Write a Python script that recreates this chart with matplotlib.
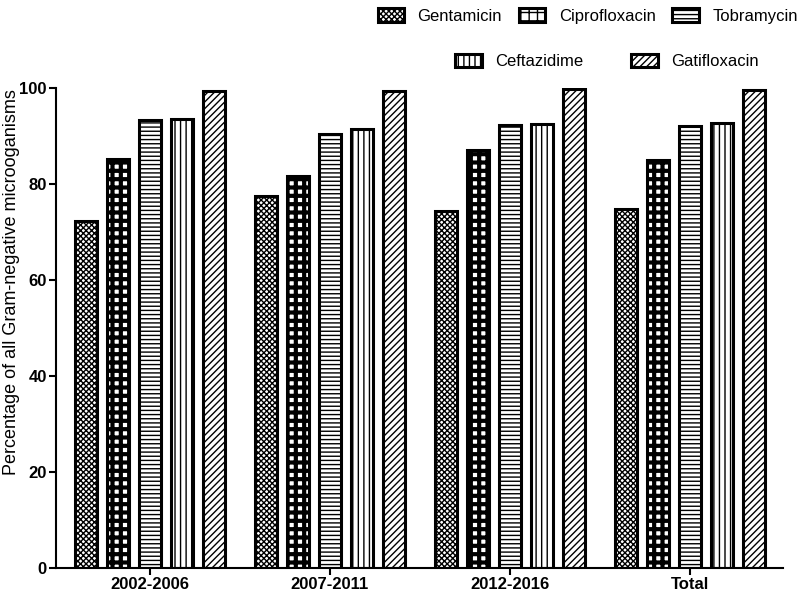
import numpy as np
import matplotlib as mpl
mpl.use('Agg')
import matplotlib.pyplot as plt
from matplotlib.patches import Patch

plt.rcParams['font.family'] = ['Liberation Sans', 'DejaVu Sans']

groups = ['2002-2006', '2007-2011', '2012-2016', 'Total']
drugs = ['Gentamicin', 'Ciprofloxacin', 'Tobramycin', 'Ceftazidime', 'Gatifloxacin']
gentamicin = [72.3, 77.5, 74.4, 74.7]
ciprofloxacin = [85.2, 81.7, 87.0, 85.0]
tobramycin = [93.3, 90.3, 92.3, 92.1]
ceftazidime = [93.5, 91.5, 92.5, 92.6]
gatifloxacin = [99.4, 99.4, 99.8, 99.6]
values = [gentamicin, ciprofloxacin, tobramycin, ceftazidime, gatifloxacin]

hatches = ['xxxxxx', '++', '----', '|||', '/////']
hatch_lw = [1.0, 3.0, 1.0, 1.0, 1.0]
hatch_col = ['#222222', 'black', '#444444', '#444444', '#444444']

fig = plt.figure(figsize=(8, 5.93), dpi=100)
ax = fig.add_axes([0.07, 0.042, 0.909, 0.81])

x = np.arange(len(groups))
width = 0.122
pitch = 0.178
handles = []
for i, (name, vals) in enumerate(zip(drugs, values)):
    with mpl.rc_context({'hatch.linewidth': hatch_lw[i], 'hatch.color': hatch_col[i]}):
        bars = ax.bar(x + (i - 2) * pitch, vals, width, color='white',
                      edgecolor='black', linewidth=2.2, hatch=hatches[i])
        for b in bars:
            if hasattr(b, 'set_hatch_linewidth'):
                b.set_hatch_linewidth(hatch_lw[i])
        h = Patch(facecolor='white', edgecolor='black', linewidth=2.2,
                  hatch=hatches[i], label=name)
        if hasattr(h, 'set_hatch_linewidth'):
            h.set_hatch_linewidth(hatch_lw[i])
    handles.append(h)

ax.set_xlim(-0.52, 3.52)
ax.set_ylim(0, 100)
ax.set_yticks([0, 20, 40, 60, 80, 100])
ax.set_xticks(x)
ax.set_xticklabels(groups, fontweight='bold', fontsize=12)
for t in ax.get_yticklabels():
    t.set_fontweight('bold')
    t.set_fontsize(12)
ax.tick_params(direction='out', length=5, width=1.5, pad=1.5)
ax.spines['top'].set_visible(False)
ax.spines['right'].set_visible(False)
ax.spines['left'].set_linewidth(1.5)
ax.spines['bottom'].set_linewidth(1.5)
ax.set_ylabel('Percentage of all Gram-negative microoganisms', fontsize=13)
ax.yaxis.set_label_coords(-0.05, 0.596)

leg1 = fig.legend(handles=handles[:3], loc='upper right', bbox_to_anchor=(1.016, 1.012),
                  ncol=3, frameon=False, fontsize=12, handlelength=1.6,
                  handleheight=0.9, columnspacing=1.0, handletextpad=0.8)
leg2 = fig.legend(handles=handles[3:], loc='upper right', bbox_to_anchor=(0.9675, 0.935),
                  ncol=2, frameon=False, fontsize=12, handlelength=1.6,
                  handleheight=0.9, columnspacing=2.9, handletextpad=0.8)

fig.savefig('out.png', dpi=100)
